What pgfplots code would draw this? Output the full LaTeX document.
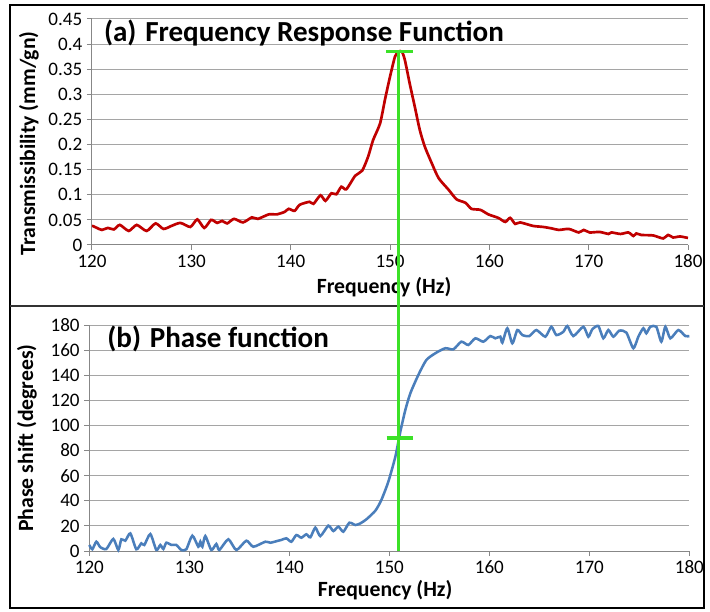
\documentclass[border=0pt]{standalone}
\usepackage{pgfplots}
\pgfplotsset{compat=1.18}
\usepackage{fontspec}
\setmainfont{Carlito}
\definecolor{gridc}{RGB}{165,165,165}
\definecolor{axc}{RGB}{135,135,135}
\definecolor{redc}{RGB}{192,0,0}
\definecolor{bluec}{RGB}{74,126,187}
\definecolor{greenc}{RGB}{60,225,40}
\pgfplotstableread{
f v
120 0.0385
120.5 0.034
121 0.030
121.6 0.034
122.2 0.031
122.8 0.040
123.7 0.028
124.5 0.040
125.5 0.028
126.4 0.043
127.2 0.032
128 0.038
128.9 0.044
129.9 0.036
130.6 0.051
131.3 0.034
132 0.050
132.6 0.044
133.1 0.048
133.6 0.043
134.3 0.052
135.2 0.045
136.1 0.055
136.7 0.052
137.8 0.061
138.6 0.061
139.4 0.066
139.8 0.072
140.4 0.068
140.9 0.080
141.9 0.086
142.3 0.082
143 0.099
143.5 0.088
144.1 0.103
144.6 0.101
145.1 0.116
145.6 0.111
146.5 0.138
147.2 0.148
147.8 0.176
148.3 0.209
149 0.242
149.5 0.290
150 0.335
150.5 0.375
150.85 0.385
151.2 0.385
151.5 0.368
152 0.320
152.5 0.275
153 0.229
153.5 0.196
154.2 0.163
154.9 0.133
155.9 0.110
156.7 0.091
157.6 0.084
158.2 0.072
159.1 0.070
159.9 0.061
160.9 0.054
161.6 0.046
162.1 0.054
162.6 0.042
163.1 0.045
164.4 0.038
165.4 0.036
166.3 0.033
167 0.030
168 0.032
169 0.025
169.5 0.030
170.1 0.025
171.1 0.026
172 0.022
172.3 0.025
173.2 0.022
174 0.025
174.5 0.018
174.8 0.023
175.3 0.020
176.5 0.019
177.5 0.013
178 0.020
178.5 0.015
179.2 0.017
180 0.014
}\frfdata
\pgfplotstableread{
f v
120 4.8
120.3 1.4
120.7 7.4
121.1 3
121.7 1.6
122.4 9.6
122.9 0.8
123.2 9.3
123.6 8.2
124.1 14
124.7 1.4
125.2 6.1
125.5 4.8
126.1 13.5
126.7 0.8
127.1 4.8
127.4 1.6
127.7 6.6
128.2 4.8
128.7 4.8
129.2 0.8
129.7 1.4
130.3 12.2
130.9 3.4
131.1 7.4
131.3 3.4
131.6 11.9
132.2 0.8
132.7 5.6
133.0 0.8
133.9 9.3
134.7 0.8
135.7 8.2
136.4 3.4
137.6 7.4
138.1 6.6
138.8 8
139.2 8.8
139.7 10.1
140.2 7.4
140.7 12.7
141.2 10.6
141.7 13.3
142.1 10.9
142.6 18.6
143.1 11.9
143.9 20.2
144.4 15.9
144.9 19.4
145.4 15.4
146.0 22.5
146.6 20.7
147.1 22
147.7 25.2
148.6 32.1
149.2 40.6
149.9 55.2
150.6 75.1
151.1 95
151.6 112.3
152.1 125.6
152.9 140.2
153.7 152.1
154.6 157.5
155.6 161.5
156.4 160.6
157.2 166.7
157.9 164.1
158.6 169.4
159.4 166.7
160.1 171.2
160.6 169.4
161.1 170.7
161.3 165.9
161.8 177.4
162.3 165.4
162.8 176
163.3 172
164.0 171.2
164.7 176
165.6 170.7
166.2 178.6
166.7 172
167.4 174.6
167.8 179.2
168.4 171.2
169.4 178.6
169.9 170.7
170.3 176.6
170.9 179.2
171.4 169.4
171.9 176
172.4 170.7
173.0 175.5
173.7 174
174.4 161.5
174.9 170.7
175.4 177.4
175.7 173.4
176.1 178.6
176.7 178.6
177.2 166.7
177.6 178.6
178.1 169.4
178.9 176
179.6 171.2
180 171.2
}\phasedata
\pgfplotsset{myax/.style={
  scale only axis, axis x line*=bottom, axis y line*=left,
  xmin=120, xmax=180, xtick={120,130,140,150,160,170,180},
  xticklabels={120,130,140,150,160,170,180},
  ymajorgrids, grid style={gridc, line width=0.75pt},
  axis line style={-, axc, line width=0.75pt},
  tick style={axc, line width=0.75pt},
  tick align=outside, major tick length=3.75pt,
  ticklabel style={font=\fontsize{14.3}{16}\selectfont, text=black},
  label style={font=\bfseries\fontsize{16.3}{19}\selectfont},
  /pgf/number format/assume math mode=true,
}}
\begin{document}
\begin{tikzpicture}
\path[use as bounding box] (0,0) rectangle (532.5pt,458.25pt);
\fill[white] (0,0) rectangle (532.5pt,458.25pt);
\draw[black, line width=1.5pt] (7.5pt,2.25pt) rectangle (528pt,454.5pt);
\draw[black!80, line width=1pt] (7.5pt,228.75pt) -- (528pt,228.75pt);

\begin{axis}[myax, at={(69pt,274.5pt)}, anchor=south west,
  width=447pt, height=169.5pt, ymin=0, ymax=0.45,
  ytick={0,0.05,0.1,0.15,0.2,0.25,0.3,0.35,0.4,0.45},
  yticklabels={0,0.05,0.1,0.15,0.2,0.25,0.3,0.35,0.4,0.45},
  xlabel={Frequency (Hz)},
  xlabel style={at={(axis description cs:0.49,-0.186)}, anchor=center},
  ylabel={Transmissibility (mm/gn)},
  ylabel style={at={(axis description cs:-0.106,0.45)}, anchor=center},
  ]
  \addplot[redc, line width=2pt, smooth, tension=0.4] table[x=f,y=v] {\frfdata};
  \addplot[greenc, line width=2.3pt] coordinates {(149.6,0.385) (152.3,0.385)};
  \node[anchor=base west, font=\bfseries\fontsize{21.8}{24}\selectfont, xshift=5.5pt, yshift=-17pt] at (rel axis cs:0,1) {(a)\hspace{0.3em}Frequency Response Function};
\end{axis}

\begin{axis}[myax, at={(67pt,45pt)}, anchor=south west,
  width=450pt, height=169.5pt, ymin=0, ymax=180, clip=false,
  ytick={0,20,40,60,80,100,120,140,160,180},
  yticklabels={0,20,40,60,80,100,120,140,160,180},
  xlabel={Frequency (Hz)},
  xlabel style={at={(axis description cs:0.493,-0.173)}, anchor=center},
  ylabel={Phase shift (degrees)},
  ylabel style={at={(axis description cs:-0.104,0.5)}, anchor=center},
  ]
  \addplot[bluec, line width=1.9pt, smooth, tension=0.4] table[x=f,y=v] {\phasedata};
  \addplot[greenc, line width=2.3pt] coordinates {(150.95,0) (150.95,397.7)};
  \addplot[greenc, line width=2.3pt] coordinates {(149.74,90) (152.37,90)};
  \node[anchor=base west, font=\bfseries\fontsize{21.8}{24}\selectfont, xshift=10pt, yshift=-17pt] at (rel axis cs:0,1) {(b)\hspace{0.3em}Phase function};
\end{axis}
\end{tikzpicture}
\end{document}
